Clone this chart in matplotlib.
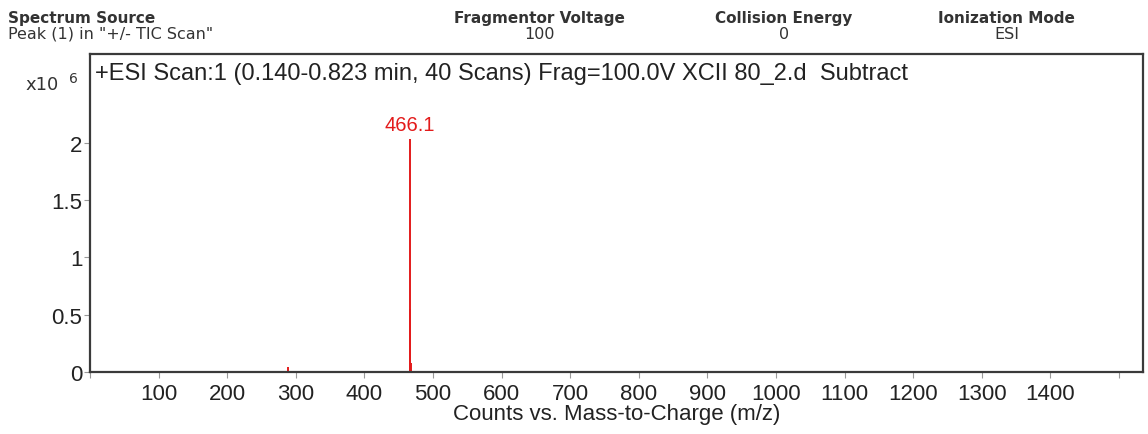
import matplotlib
matplotlib.use("Agg")
import matplotlib.pyplot as plt
from matplotlib.ticker import MultipleLocator, FixedLocator, FuncFormatter

# ---------- data (counts) ----------
MZ = [288.0, 466.1, 467.1, 468.1]
COUNTS = [0.04e6, 2.03e6, 0.55e6, 0.08e6]
PEAK_LABEL = "466.1"
SCALE_EXP = 6
Y_TICKS = [0, 0.5, 1, 1.5, 2]

TITLE = "+ESI Scan:1 (0.140-0.823 min, 40 Scans) Frag=100.0V XCII 80_2.d  Subtract"
XLABEL = "Counts vs. Mass-to-Charge (m/z)"
HEADER_COLS = [
    ("Fragmentor Voltage", "100"),
    ("Collision Energy", "0"),
    ("Ionization Mode", "ESI"),
]
HEADER_X = [0.470, 0.683, 0.877]

plt.rcParams["font.family"] = ["Liberation Sans", "DejaVu Sans"]
RED = "#e31b1b"
INK = "#222222"

fig = plt.figure(figsize=(11.48, 4.35), dpi=100)
ax = fig.add_axes([0.0784, 0.1425, 0.9172, 0.7311])

scaled = [c / 10 ** SCALE_EXP for c in COUNTS]
ax.vlines(MZ, 0, scaled, color=RED, lw=1.4)

top = max(range(len(scaled)), key=lambda i: scaled[i])
ax.annotate(PEAK_LABEL, (MZ[top], scaled[top]), xytext=(0, 4),
            textcoords="offset points", ha="center", va="bottom",
            color=RED, fontsize=14.5)

ax.set_xlim(0, 1535)
ax.set_ylim(0, 2.775)
ax.xaxis.set_major_locator(MultipleLocator(100))
ax.yaxis.set_major_locator(FixedLocator(Y_TICKS))
ax.xaxis.set_major_formatter(FuncFormatter(
    lambda v, p: "" if v < 50 or v > 1450 else f"{v:.0f}"))
ax.yaxis.set_major_formatter(FuncFormatter(lambda v, p: f"{v:g}"))
ax.tick_params(labelsize=16, length=4, width=0.8, colors="#999999",
               labelcolor=INK)
ax.tick_params(axis="x", pad=4)
ax.tick_params(axis="y", pad=1.5)
for s in ax.spines.values():
    s.set_color("#3a3a3a")
    s.set_linewidth(1.6)

ax.set_xlabel(XLABEL, fontsize=16, labelpad=-1, color=INK)
ax.text(0.005, 0.975, TITLE, transform=ax.transAxes, ha="left", va="top",
        fontsize=17, color=INK)

# exponent marker at top-left
fig.text(0.022, 0.793, "x10", fontsize=13, family=["DejaVu Sans"],
         color="#333333", va="baseline")
fig.text(0.060, 0.809, str(SCALE_EXP), fontsize=10, family=["DejaVu Sans"],
         color="#333333", va="baseline")

# header block
hfont = ["DejaVu Sans"]
fig.text(0.007, 0.948, "Spectrum Source", fontsize=11, fontweight="bold",
         family=hfont, color="#333333", va="baseline")
fig.text(0.007, 0.911, 'Peak (1) in "+/- TIC Scan"', fontsize=11.5,
         family=hfont, color="#333333", va="baseline")
for (name, val), x in zip(HEADER_COLS, HEADER_X):
    fig.text(x, 0.948, name, fontsize=11, fontweight="bold", family=hfont,
             color="#333333", ha="center", va="baseline")
    fig.text(x, 0.911, val, fontsize=11.5, family=hfont, color="#333333",
             ha="center", va="baseline")

fig.savefig("out.png", dpi=100)
